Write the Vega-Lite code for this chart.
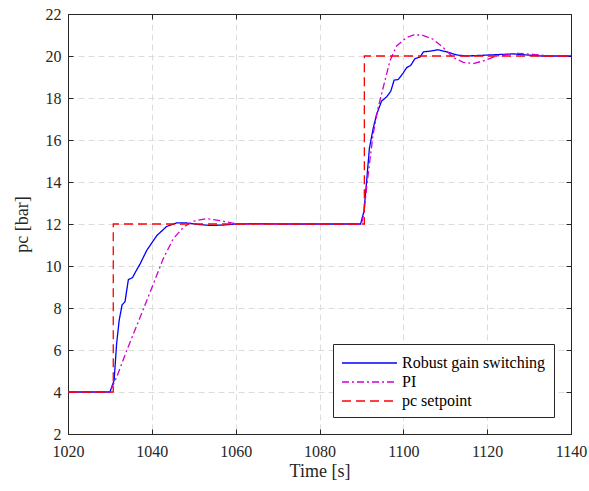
{
  "$schema": "https://vega.github.io/schema/vega-lite/v6.json",
  "width": 503,
  "height": 420,
  "autosize": "none",
  "padding": {"left": 68, "top": 14, "right": 18, "bottom": 57},
  "background": "white",
  "config": {
    "font": "Liberation Serif",
    "view": {"stroke": null},
    "axis": {
      "domainColor": "#262626",
      "tickColor": "#262626",
      "labelColor": "#262626",
      "titleColor": "#262626",
      "labelFont": "Liberation Serif",
      "titleFont": "Liberation Serif",
      "labelFontSize": 16,
      "titleFontSize": 18,
      "titleFontWeight": "normal",
      "tickSize": -5,
      "gridColor": "#dcdcdc",
      "gridDash": [6, 4],
      "gridWidth": 1
    },
    "legend": {
      "labelFont": "Liberation Serif",
      "labelFontSize": 16,
      "labelColor": "#000000"
    }
  },
  "data": {
    "values": [
      {"s": "Robust gain switching", "i": 1, "t": 1020, "p": 4},
      {"s": "Robust gain switching", "i": 2, "t": 1030, "p": 4},
      {"s": "Robust gain switching", "i": 3, "t": 1031.0, "p": 4.55},
      {"s": "Robust gain switching", "i": 4, "t": 1031.6, "p": 6.3},
      {"s": "Robust gain switching", "i": 5, "t": 1032.2, "p": 7.4},
      {"s": "Robust gain switching", "i": 6, "t": 1032.9, "p": 8.15},
      {"s": "Robust gain switching", "i": 7, "t": 1033.6, "p": 8.3},
      {"s": "Robust gain switching", "i": 8, "t": 1034.4, "p": 9.35},
      {"s": "Robust gain switching", "i": 9, "t": 1035.4, "p": 9.45},
      {"s": "Robust gain switching", "i": 10, "t": 1036.2, "p": 9.75},
      {"s": "Robust gain switching", "i": 11, "t": 1037.2, "p": 10.1},
      {"s": "Robust gain switching", "i": 12, "t": 1038.8, "p": 10.75},
      {"s": "Robust gain switching", "i": 13, "t": 1041.2, "p": 11.45},
      {"s": "Robust gain switching", "i": 14, "t": 1043.5, "p": 11.88},
      {"s": "Robust gain switching", "i": 15, "t": 1045.9, "p": 12.05},
      {"s": "Robust gain switching", "i": 16, "t": 1048.3, "p": 12.05},
      {"s": "Robust gain switching", "i": 17, "t": 1051, "p": 11.98},
      {"s": "Robust gain switching", "i": 18, "t": 1054, "p": 11.93},
      {"s": "Robust gain switching", "i": 19, "t": 1057, "p": 11.95},
      {"s": "Robust gain switching", "i": 20, "t": 1060, "p": 12.0},
      {"s": "Robust gain switching", "i": 21, "t": 1065, "p": 12.02},
      {"s": "Robust gain switching", "i": 22, "t": 1070, "p": 12.0},
      {"s": "Robust gain switching", "i": 23, "t": 1089.8, "p": 12.0},
      {"s": "Robust gain switching", "i": 24, "t": 1090.6, "p": 12.6},
      {"s": "Robust gain switching", "i": 25, "t": 1091.25, "p": 14.05},
      {"s": "Robust gain switching", "i": 26, "t": 1091.9, "p": 15.6},
      {"s": "Robust gain switching", "i": 27, "t": 1092.8, "p": 16.55},
      {"s": "Robust gain switching", "i": 28, "t": 1093.6, "p": 17.2},
      {"s": "Robust gain switching", "i": 29, "t": 1094.8, "p": 17.85},
      {"s": "Robust gain switching", "i": 30, "t": 1096.0, "p": 18.05},
      {"s": "Robust gain switching", "i": 31, "t": 1097.0, "p": 18.32},
      {"s": "Robust gain switching", "i": 32, "t": 1097.8, "p": 18.85},
      {"s": "Robust gain switching", "i": 33, "t": 1098.8, "p": 18.88},
      {"s": "Robust gain switching", "i": 34, "t": 1100.0, "p": 19.2},
      {"s": "Robust gain switching", "i": 35, "t": 1100.8, "p": 19.45},
      {"s": "Robust gain switching", "i": 36, "t": 1101.75, "p": 19.55},
      {"s": "Robust gain switching", "i": 37, "t": 1102.8, "p": 19.88},
      {"s": "Robust gain switching", "i": 38, "t": 1104.0, "p": 19.95},
      {"s": "Robust gain switching", "i": 39, "t": 1104.8, "p": 20.2},
      {"s": "Robust gain switching", "i": 40, "t": 1106.4, "p": 20.23},
      {"s": "Robust gain switching", "i": 41, "t": 1108.3, "p": 20.3},
      {"s": "Robust gain switching", "i": 42, "t": 1110.3, "p": 20.2},
      {"s": "Robust gain switching", "i": 43, "t": 1112.7, "p": 20.05},
      {"s": "Robust gain switching", "i": 44, "t": 1115.1, "p": 20.0},
      {"s": "Robust gain switching", "i": 45, "t": 1120.7, "p": 20.05},
      {"s": "Robust gain switching", "i": 46, "t": 1126.2, "p": 20.1},
      {"s": "Robust gain switching", "i": 47, "t": 1129.4, "p": 20.05},
      {"s": "Robust gain switching", "i": 48, "t": 1133, "p": 20.0},
      {"s": "Robust gain switching", "i": 49, "t": 1140, "p": 20.0},
      {"s": "PI", "i": 1, "t": 1020, "p": 4},
      {"s": "PI", "i": 2, "t": 1030, "p": 4},
      {"s": "PI", "i": 3, "t": 1031.6, "p": 4.7},
      {"s": "PI", "i": 4, "t": 1034.0, "p": 5.97},
      {"s": "PI", "i": 5, "t": 1037.2, "p": 7.56},
      {"s": "PI", "i": 6, "t": 1040.35, "p": 9.14},
      {"s": "PI", "i": 7, "t": 1042.7, "p": 10.34},
      {"s": "PI", "i": 8, "t": 1045.1, "p": 11.29},
      {"s": "PI", "i": 9, "t": 1047.5, "p": 11.84},
      {"s": "PI", "i": 10, "t": 1049.9, "p": 12.13},
      {"s": "PI", "i": 11, "t": 1053.1, "p": 12.26},
      {"s": "PI", "i": 12, "t": 1057.1, "p": 12.13},
      {"s": "PI", "i": 13, "t": 1060.2, "p": 12.0},
      {"s": "PI", "i": 14, "t": 1065, "p": 12.0},
      {"s": "PI", "i": 15, "t": 1090, "p": 12.0},
      {"s": "PI", "i": 16, "t": 1090.6, "p": 12.5},
      {"s": "PI", "i": 17, "t": 1091.25, "p": 13.75},
      {"s": "PI", "i": 18, "t": 1092.0, "p": 15.0},
      {"s": "PI", "i": 19, "t": 1092.8, "p": 16.28},
      {"s": "PI", "i": 20, "t": 1094.0, "p": 17.55},
      {"s": "PI", "i": 21, "t": 1095.2, "p": 18.5},
      {"s": "PI", "i": 22, "t": 1096.8, "p": 19.77},
      {"s": "PI", "i": 23, "t": 1098.4, "p": 20.48},
      {"s": "PI", "i": 24, "t": 1100.8, "p": 20.88},
      {"s": "PI", "i": 25, "t": 1102.5, "p": 21.0},
      {"s": "PI", "i": 26, "t": 1104.4, "p": 21.0},
      {"s": "PI", "i": 27, "t": 1107.1, "p": 20.8},
      {"s": "PI", "i": 28, "t": 1109.5, "p": 20.4},
      {"s": "PI", "i": 29, "t": 1111.9, "p": 19.93},
      {"s": "PI", "i": 30, "t": 1114.3, "p": 19.7},
      {"s": "PI", "i": 31, "t": 1116.7, "p": 19.64},
      {"s": "PI", "i": 32, "t": 1119.1, "p": 19.77},
      {"s": "PI", "i": 33, "t": 1122.3, "p": 20.0},
      {"s": "PI", "i": 34, "t": 1127.0, "p": 20.13},
      {"s": "PI", "i": 35, "t": 1131.0, "p": 20.08},
      {"s": "PI", "i": 36, "t": 1135, "p": 20.0},
      {"s": "PI", "i": 37, "t": 1140, "p": 20.0},
      {"s": "pc setpoint", "i": 1, "t": 1020, "p": 4},
      {"s": "pc setpoint", "i": 2, "t": 1030.8, "p": 4},
      {"s": "pc setpoint", "i": 3, "t": 1030.8, "p": 12},
      {"s": "pc setpoint", "i": 4, "t": 1090.7, "p": 12},
      {"s": "pc setpoint", "i": 5, "t": 1090.7, "p": 20},
      {"s": "pc setpoint", "i": 6, "t": 1140, "p": 20}
    ]
  },
  "layer": [
    {
      "mark": {"type": "line", "strokeWidth": 1.3, "clip": true},
      "encoding": {
        "x": {
          "field": "t", "type": "quantitative",
          "scale": {"domain": [1020, 1140], "nice": false, "zero": false},
          "axis": {"title": "Time [s]", "format": "d", "values": [1020, 1040, 1060, 1080, 1100, 1120, 1140], "labelPadding": 14, "titlePadding": 3, "labelFlush": false}
        },
        "y": {
          "field": "p", "type": "quantitative",
          "scale": {"domain": [2, 22], "nice": false, "zero": false},
          "axis": {"title": "pc [bar]", "format": "d", "values": [2, 4, 6, 8, 10, 12, 14, 16, 18, 20, 22], "labelPadding": 12, "titlePadding": 14}
        },
        "color": {
          "field": "s", "type": "nominal",
          "scale": {"domain": ["Robust gain switching", "PI", "pc setpoint"], "range": ["#0000ff", "#d000d0", "#ff0000"]},
          "legend": {
            "title": null, "orient": "bottom-right", "offset": 17,
            "strokeColor": "#262626", "fillColor": "white", "padding": 8,
            "symbolType": "M-1,0H4.5", "symbolSize": 400, "symbolStrokeWidth": 1.3, "rowPadding": -2, "labelOffset": 39
          }
        },
        "strokeDash": {
          "field": "s", "type": "nominal",
          "scale": {"domain": ["Robust gain switching", "PI", "pc setpoint"], "range": [[1, 0], [7, 3, 2, 3], [9, 5]]},
          "legend": {
            "title": null, "orient": "bottom-right", "offset": 17,
            "strokeColor": "#262626", "fillColor": "white", "padding": 8,
            "symbolType": "M-1,0H4.5", "symbolSize": 400, "symbolStrokeWidth": 1.3, "rowPadding": -2, "labelOffset": 39
          }
        },
        "order": {"field": "i", "type": "quantitative"}
      }
    },
    {
      "mark": {"type": "point", "opacity": 0},
      "encoding": {
        "x": {
          "field": "t", "type": "quantitative",
          "axis": {"orient": "top", "title": null, "labels": false, "grid": false, "values": [1020, 1040, 1060, 1080, 1100, 1120, 1140]}
        },
        "y": {
          "field": "p", "type": "quantitative",
          "axis": {"orient": "right", "title": null, "labels": false, "grid": false, "values": [2, 4, 6, 8, 10, 12, 14, 16, 18, 20, 22]}
        }
      }
    }
  ],
  "resolve": {"axis": {"x": "independent", "y": "independent"}}
}
